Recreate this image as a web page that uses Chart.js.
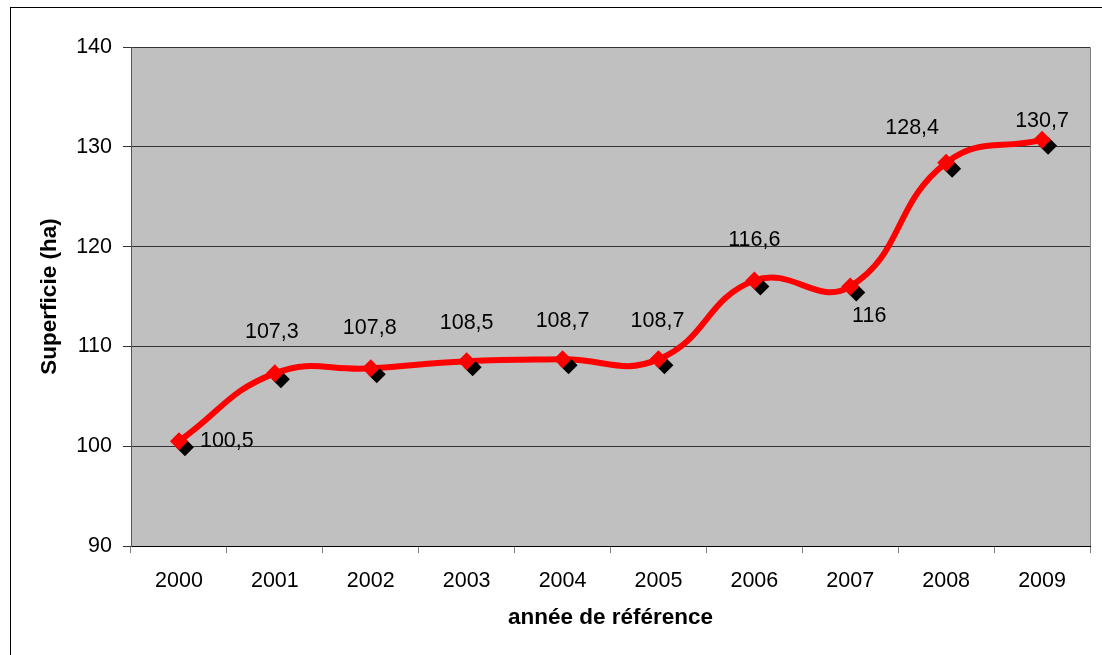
<!DOCTYPE html>
<html lang="fr">
<head>
    <meta charset="UTF-8">
    <title>Superficie (ha)</title>
    <script src="https://cdn.jsdelivr.net/npm/chart.js"></script>
    <style>
        html, body { margin: 0; padding: 0; background: #fff; }
        #wrap { width: 1102px; height: 655px; position: relative; }
    </style>
</head>
<body>
<div id="wrap"><canvas id="chart"></canvas></div>
<script>
    // données
    const years = ['2000', '2001', '2002', '2003', '2004', '2005', '2006', '2007', '2008', '2009'];
    const superficie = [100.5, 107.3, 107.8, 108.5, 108.7, 108.7, 116.6, 116, 128.4, 130.7];
    const yTicks = [90, 100, 110, 120, 130, 140];

    // décalage des étiquettes (px, par rapport au point)
    const labelDx = [21, -3, -1, 0, 0, -1, 0, 19, -34, 0];
    const labelDy = [0, -41, -40, -38, -38, -38, -40, 30, -35, -19];
    const labelAlign = ['left', 'center', 'center', 'center', 'center', 'center', 'center', 'center', 'center', 'center'];

    const fmt = v => String(v).replace('.', ',');
    const FONT = '"Liberation Sans", Arial, sans-serif';

    const decor = {
        id: 'decor',
        beforeDraw(chart) {
            const { ctx, chartArea: a } = chart;
            ctx.save();
            ctx.fillStyle = '#fff';
            ctx.fillRect(0, 0, chart.width, chart.height);
            ctx.strokeStyle = '#000';
            ctx.lineWidth = 1;
            ctx.strokeRect(10.5, 7.5, 1200, 700);
            ctx.fillStyle = '#c0c0c0';
            ctx.fillRect(a.left, a.top, a.right - a.left, a.bottom - a.top);
            ctx.strokeStyle = '#808080';
            ctx.beginPath();
            ctx.moveTo(a.left, a.top + 0.5);
            ctx.lineTo(a.right + 0.5, a.top + 0.5);
            ctx.lineTo(a.right + 0.5, a.bottom);
            ctx.stroke();
            ctx.restore();
        },
        afterDatasetsDraw(chart) {
            const { ctx } = chart;
            const meta = chart.getDatasetMeta(0);
            ctx.save();
            ctx.font = '21.5px ' + FONT;
            ctx.fillStyle = '#000';
            ctx.textBaseline = 'middle';
            meta.data.forEach((p, i) => {
                ctx.textAlign = labelAlign[i];
                ctx.fillText(fmt(superficie[i]), p.x + labelDx[i], p.y + labelDy[i]);
            });
            ctx.restore();
        }
    };

    const shadow = {
        id: 'shadow',
        beforeDatasetDraw(chart, args) {
            if (args.index !== 0) return;
            const ctx = chart.ctx;
            ctx.save();
            ctx.shadowColor = '#000';
            ctx.shadowOffsetX = 6;
            ctx.shadowOffsetY = 6;
            ctx.shadowBlur = 0;
        },
        afterDatasetDraw(chart, args) {
            if (args.index !== 0) return;
            chart.ctx.restore();
        }
    };

    const ctx = document.getElementById('chart').getContext('2d');
    new Chart(ctx, {
        type: 'line',
        data: {
            labels: years,
            datasets: [
                {
                    // marqueurs
                    data: superficie,
                    showLine: false,
                    pointStyle: 'rectRot',
                    pointRadius: 9,
                    pointHoverRadius: 9,
                    pointBackgroundColor: '#ff0000',
                    pointBorderColor: '#ff0000',
                    pointBorderWidth: 0,
                    order: 0
                },
                {
                    // courbe lissée
                    data: superficie,
                    borderColor: '#ff0000',
                    borderWidth: 6,
                    tension: 0.45,
                    pointRadius: 0,
                    fill: false,
                    order: 1
                }
            ]
        },
        options: {
            responsive: true,
            maintainAspectRatio: false,
            animation: false,
            layout: { padding: { left: 36, top: 47, right: 12, bottom: 23.5 } },
            plugins: {
                legend: { display: false },
                tooltip: { enabled: false }
            },
            scales: {
                x: {
                    offset: true,
                    grid: {
                        offset: true,
                        drawOnChartArea: false,
                        tickLength: 7,
                        color: '#808080'
                    },
                    border: { color: '#000', width: 1 },
                    ticks: {
                        color: '#000',
                        padding: 15,
                        font: { family: FONT, size: 21.5 }
                    },
                    title: {
                        display: true,
                        text: 'année de référence',
                        color: '#000',
                        padding: 0,
                        font: { family: FONT, size: 22.5, weight: 'bold' }
                    },
                    afterFit(s) { s.height = 85.5; }
                },
                y: {
                    min: 90,
                    max: 140,
                    afterBuildTicks(s) { s.ticks = yTicks.map(v => ({ value: v })); },
                    grid: {
                        color: '#333',
                        tickLength: 8,
                        tickColor: '#333'
                    },
                    border: { color: '#555', width: 1 },
                    ticks: {
                        color: '#000',
                        padding: 11,
                        font: { family: FONT, size: 21.5 }
                    },
                    title: {
                        display: true,
                        text: 'Superficie (ha)',
                        color: '#000',
                        padding: 0,
                        font: { family: FONT, size: 22.5, weight: 'bold' }
                    },
                    afterFit(s) { s.width = 95; }
                }
            }
        },
        plugins: [decor, shadow]
    });
</script>
</body>
</html>
